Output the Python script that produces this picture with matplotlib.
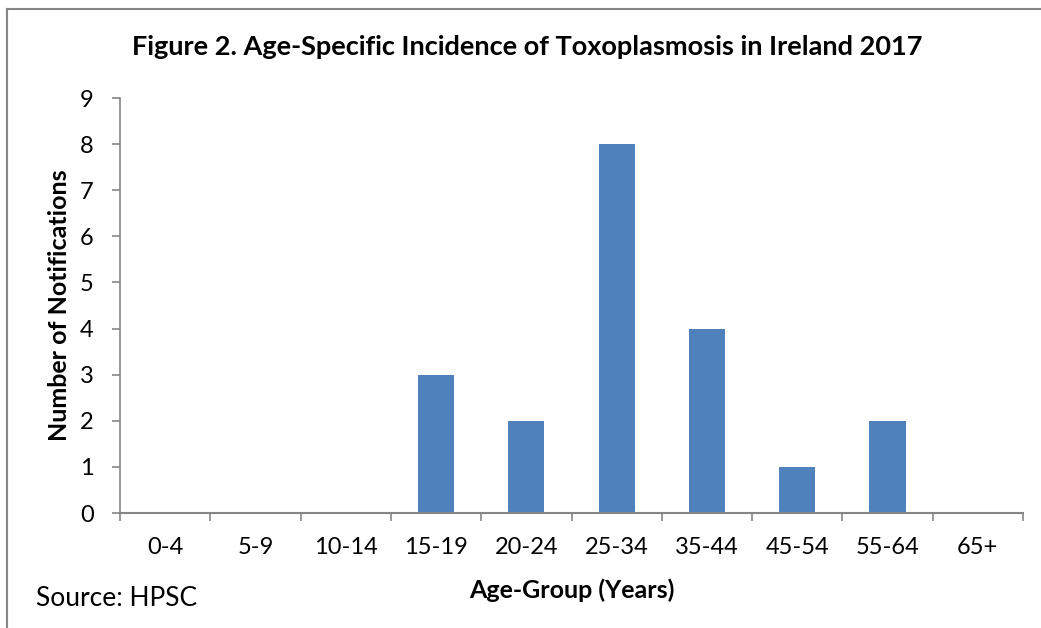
import matplotlib.pyplot as plt
from matplotlib.lines import Line2D
import numpy as np

plt.rcParams['font.family'] = ['Lato', 'DejaVu Sans']

age_groups = ['0-4', '5-9', '10-14', '15-19', '20-24', '25-34', '35-44', '45-54', '55-64', '65+']
notifications = [0, 0, 0, 3, 2, 8, 4, 1, 2, 0]

fig = plt.figure(figsize=(10.41, 6.28), dpi=100)
ax = fig.add_axes([0.1153, 0.1831, 0.8674, 0.6608])

x = np.arange(len(age_groups))
ax.bar(x, notifications, width=0.4, color='#4F81BD')

ax.set_xlim(-0.5, len(age_groups) - 0.5)
ax.set_ylim(0, 9)
ax.set_yticks(range(0, 10))

gray = '#868686'
for s in ['top', 'right']:
    ax.spines[s].set_visible(False)
ax.spines['left'].set_color(gray)
ax.spines['bottom'].set_color(gray)
ax.spines['left'].set_linewidth(1.2)
ax.spines['bottom'].set_linewidth(1.5)

# category labels centred, ticks between categories
ax.set_xticks(x)
ax.set_xticklabels(age_groups, fontsize=17)
ax.tick_params(axis='x', length=0, pad=17)
ax.set_xticks(np.arange(-0.5, len(age_groups)), minor=True)
ax.tick_params(axis='x', which='minor', length=6, width=1.2, color=gray)
ax.tick_params(axis='y', length=6, width=1.2, color=gray, labelsize=17, pad=13)

ax.set_ylabel('Number of Notifications', fontsize=18, fontweight='bold', labelpad=6)
ax.set_xlabel('Age-Group (Years)', fontsize=18, fontweight='bold', labelpad=15)
fig.text(0.506, 0.925, 'Figure 2. Age-Specific Incidence of Toxoplasmosis in Ireland 2017',
         ha='center', va='center', fontsize=19.5, fontweight='bold')
fig.text(0.035, 0.047, 'Source: HPSC', ha='left', va='center', fontsize=19)

# outer frame
fig.add_artist(Line2D([0.0072, 0.0072], [0, 0.986], color=gray, lw=1.5, transform=fig.transFigure))
fig.add_artist(Line2D([0.0072, 0.999], [0.986, 0.986], color=gray, lw=1.5, transform=fig.transFigure))

fig.savefig('out.png', dpi=100)
